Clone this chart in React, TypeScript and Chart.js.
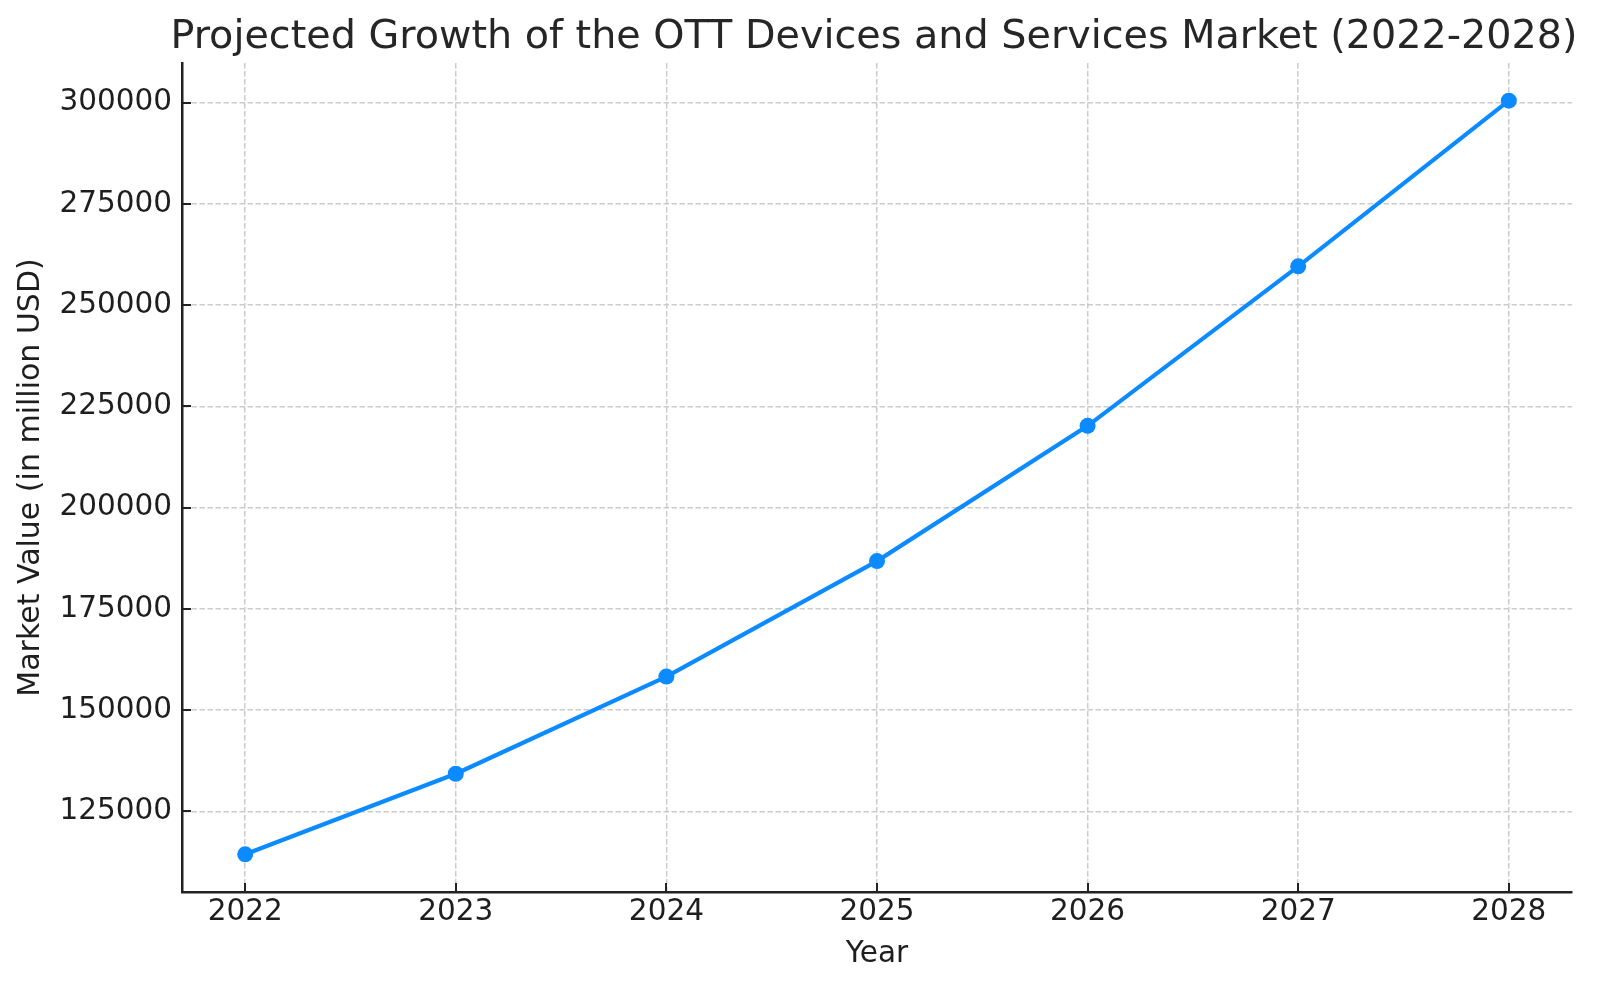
import React, { useEffect, useRef } from "react";
import { Chart, registerables } from "chart.js";

Chart.register(...registerables);

const years: number[] = [2022, 2023, 2024, 2025, 2026, 2027, 2028];
const marketValues: number[] = [114400, 134300, 158300, 186800, 220200, 259600, 300500];
const yTickValues: number[] = [125000, 150000, 175000, 200000, 225000, 250000, 275000, 300000];

const titleText = "Projected Growth of the OTT Devices and Services Market (2022-2028)";
const xTitle = "Year";
const yTitle = "Market Value (in million USD)";

const FONT = "'DejaVu Sans', sans-serif";
const LINE_COLOR = "#0b8bff";
const TEXT_COLOR = "#1e1e1e";
const TITLE_COLOR = "#262626";
const SPINE_COLOR = "#222222";
const GRID_COLOR = "#cccccc";

const inwardTicks = {
  id: "inwardTicks",
  afterDatasetsDraw(chart: any) {
    const { ctx, chartArea, scales } = chart;
    ctx.save();
    ctx.strokeStyle = SPINE_COLOR;
    ctx.lineWidth = 2;
    ctx.beginPath();
    for (const t of scales.x.ticks) {
      const px = Math.round(scales.x.getPixelForValue(t.value));
      ctx.moveTo(px, chartArea.bottom);
      ctx.lineTo(px, chartArea.bottom - 9);
    }
    for (const t of scales.y.ticks) {
      const py = Math.round(scales.y.getPixelForValue(t.value));
      ctx.moveTo(chartArea.left, py);
      ctx.lineTo(chartArea.left + 9, py);
    }
    ctx.stroke();
    ctx.restore();
  },
};

// Title drawn over the axes centre (as matplotlib does), without width squeezing.
const axesTitle = {
  id: "axesTitle",
  afterDraw(chart: any) {
    const { ctx, chartArea } = chart;
    ctx.save();
    ctx.fillStyle = TITLE_COLOR;
    ctx.font = `normal 39.7px ${FONT}`;
    ctx.textAlign = "center";
    ctx.textBaseline = "alphabetic";
    ctx.fillText(titleText, (chartArea.left + chartArea.right) / 2 - 3, 48);
    ctx.restore();
  },
};

export default function App() {
  const ref = useRef<HTMLCanvasElement | null>(null);

  useEffect(() => {
    if (!ref.current) return;
    const vMin = Math.min(...marketValues);
    const vMax = Math.max(...marketValues);
    const vPad = (vMax - vMin) * 0.05;
    const span = years[years.length - 1] - years[0];
    const xMin = years[0] - span * 0.05;
    const xMax = years[years.length - 1] + span * 0.05;

    const chart = new Chart(ref.current, {
      type: "line",
      data: {
        datasets: [
          {
            label: "Market Value",
            data: years.map((y, i) => ({ x: y, y: marketValues[i] })),
            borderColor: LINE_COLOR,
            backgroundColor: LINE_COLOR,
            borderWidth: 4.2,
            pointRadius: 8,
            pointHoverRadius: 8,
            pointBorderWidth: 0,
            pointBackgroundColor: LINE_COLOR,
            tension: 0,
            fill: false,
          },
        ],
      },
      options: {
        responsive: false,
        animation: false,
        devicePixelRatio: 1,
        layout: { padding: { top: 63, left: 0, right: 28, bottom: 0 } },
        plugins: {
          legend: { display: false },
          tooltip: { enabled: false },
          title: { display: false },
        },
        scales: {
          x: {
            type: "linear",
            min: xMin,
            max: xMax,
            afterBuildTicks: (scale: any) => {
              scale.ticks = years.map((v) => ({ value: v }));
            },
            afterFit: (scale: any) => {
              scale.height = 95;
            },
            ticks: {
              color: TEXT_COLOR,
              font: { family: FONT, size: 29.5, lineHeight: 1.2 },
              padding: 3,
              maxRotation: 0,
              autoSkip: false,
              callback: (v: any) => String(v),
            },
            grid: { color: GRID_COLOR, lineWidth: 1.5, drawTicks: false },
            border: { display: true, color: SPINE_COLOR, width: 2.5, dash: [5.5, 2.5] },
            title: {
              display: true,
              text: xTitle,
              color: TEXT_COLOR,
              font: { family: FONT, size: 29.5, lineHeight: 1.2 },
              padding: { top: 0, bottom: 15 },
            },
          },
          y: {
            type: "linear",
            min: vMin - vPad,
            max: vMax + vPad,
            afterBuildTicks: (scale: any) => {
              scale.ticks = yTickValues.map((v) => ({ value: v }));
            },
            afterFit: (scale: any) => {
              scale.width = 182;
            },
            ticks: {
              color: TEXT_COLOR,
              font: { family: FONT, size: 29.5, lineHeight: 1.2 },
              padding: 10,
              autoSkip: false,
              callback: (v: any) => String(v),
            },
            grid: { color: GRID_COLOR, lineWidth: 1.5, drawTicks: false },
            border: { display: true, color: SPINE_COLOR, width: 2.5, dash: [5.5, 2.5] },
            title: {
              display: true,
              text: yTitle,
              color: TEXT_COLOR,
              font: { family: FONT, size: 30, lineHeight: 1.2 },
              padding: { top: 13, bottom: 0 },
            },
          },
        },
      },
      plugins: [inwardTicks, axesTitle],
    } as any);

    return () => chart.destroy();
  }, []);

  return (
    <div style={{ position: "absolute", left: 0, top: 0, width: 1600, height: 987, background: "#ffffff" }}>
      <canvas ref={ref} width={1600} height={987} style={{ display: "block" }} />
    </div>
  );
}
